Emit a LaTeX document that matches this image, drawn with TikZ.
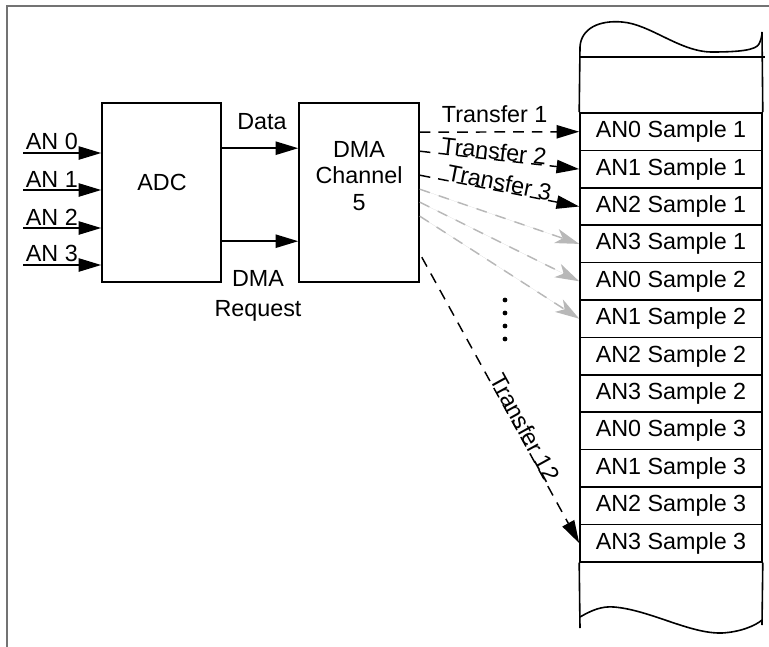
\documentclass[tikz,border=0pt]{standalone}
\usepackage{fontspec}
\setmainfont{Liberation Sans}
\usetikzlibrary{positioning,arrows.meta,calc}
\newcommand{\pxu}{0.75pt}

\begin{document}
\begin{tikzpicture}[
  x=0.75pt, y=-0.75pt,
  >={Triangle[length=17pt,width=10pt]},
  every node/.style={font=\fontsize{17.5}{20}\selectfont},
  blk/.style={draw,line width=1.2pt,minimum width=120*\pxu,minimum height=179*\pxu},
  cell/.style={draw,line width=1.2pt,minimum width=182*\pxu,minimum height=37.4*\pxu,inner sep=0pt},
  xfer/.style={->,line width=1.1pt,dash pattern=on 8pt off 6pt},
  grayxfer/.style={-{Stealth[length=18pt,width=11pt,inset=5pt]},draw=black!28,fill=black!28,line width=1.1pt,dash pattern=on 8pt off 7pt},
  lbl/.style={sloped,anchor=base,inner sep=1pt}
]
\useasboundingbox (0,0) rectangle (769,647);

% 枠
\draw[black!55,line width=1.5pt] (7,647) -- (7,6) -- (769,6);

% ADC
\node[blk,minimum width=119*\pxu] (adc) at (161.5,192.5) {};
\node (adclbl) at (162,182) {ADC};
\foreach \k/\y in {0/153,1/190,2/228,3/265}{
  \coordinate (in\k) at (23,\y);
  \draw[->,line width=1.2pt] (in\k) -- (in\k -| adc.west);
  \node[above right,inner sep=2pt] (an\k) at (in\k) {AN \k};
}

% DMA チャネル
\node[blk] (dma) at (359,192.5) {};
\node[align=center] (dmalbl) at (359,176) {DMA\\Channel\\5};

\draw[->,line width=1.2pt] ($(adc.north east)+(0,46)$) -- ($(dma.north west)+(0,46)$);
\draw[->,line width=1.2pt] ($(adc.north east)+(0,139)$) -- ($(dma.north west)+(0,139)$);
\node (datalbl) at (262,122) {Data};
\node[align=center,font=\fontsize{17.5}{23}\selectfont] (reqlbl) at (258,296) {DMA\\Request};

% メモリ
\foreach \j in {1,2,3}{
  \foreach \k in {0,...,3}{
    \pgfmathtruncatemacro\n{(\j-1)*4+\k+1}
    \node[cell] (s\n) at (671,{113+37.4*(\n-0.5)}) {AN\k{} Sample \j};
  }
}
\draw[line width=1.2pt] (580,47) -- (s1.north west);
\draw[line width=1.2pt] (762,32) -- (s1.north east);
\draw[line width=1.2pt] (580,57) -- (765,57);
\draw[line width=1.2pt] (580,47)
  .. controls (581,28) and (600,20) .. (622,22)
  .. controls (650,24) and (680,52) .. (712,52)
  .. controls (740,52) and (756,50) .. (759,44)
  .. controls (761,40) and (762,36) .. (762,32);
\draw[line width=1.2pt] (s12.south west) -- (580,628);
\draw[line width=1.2pt] (s12.south east) -- (762,625);
\draw[line width=1.2pt] (580,617)
  .. controls (592,610) and (602,606) .. (614,607)
  .. controls (650,610) and (690,634) .. (722,633)
  .. controls (740,632) and (755,626) .. (762,620);

% 転送
\draw[xfer] ($(dma.north east)+(0,30)$) -- (s1.west)
  node[pos=0.47,anchor=base,yshift=7pt] {Transfer 1};
\draw[xfer] ($(dma.north east)+(0,49)$) -- (s2.west)
  node[lbl,pos=0.46] {Transfer 2};
\draw[xfer] ($(dma.north east)+(0,73)$) -- (s3.west)
  node[lbl,pos=0.49] {Transfer 3};
\draw[grayxfer] ($(dma.north east)+(0,87)$) -- (s4.west);
\draw[grayxfer] ($(dma.north east)+(0,100)$) -- (s5.west);
\draw[grayxfer] ($(dma.north east)+(0,114)$) -- (s6.west);
\draw[xfer] ($(dma.north east)+(2,155)$) -- (s12.west)
  node[lbl,pos=0.61] {Transfer 12};

\foreach \y in {300,313,326,339}
  \fill (505,\y) circle (1.8pt);

\end{tikzpicture}
\end{document}
